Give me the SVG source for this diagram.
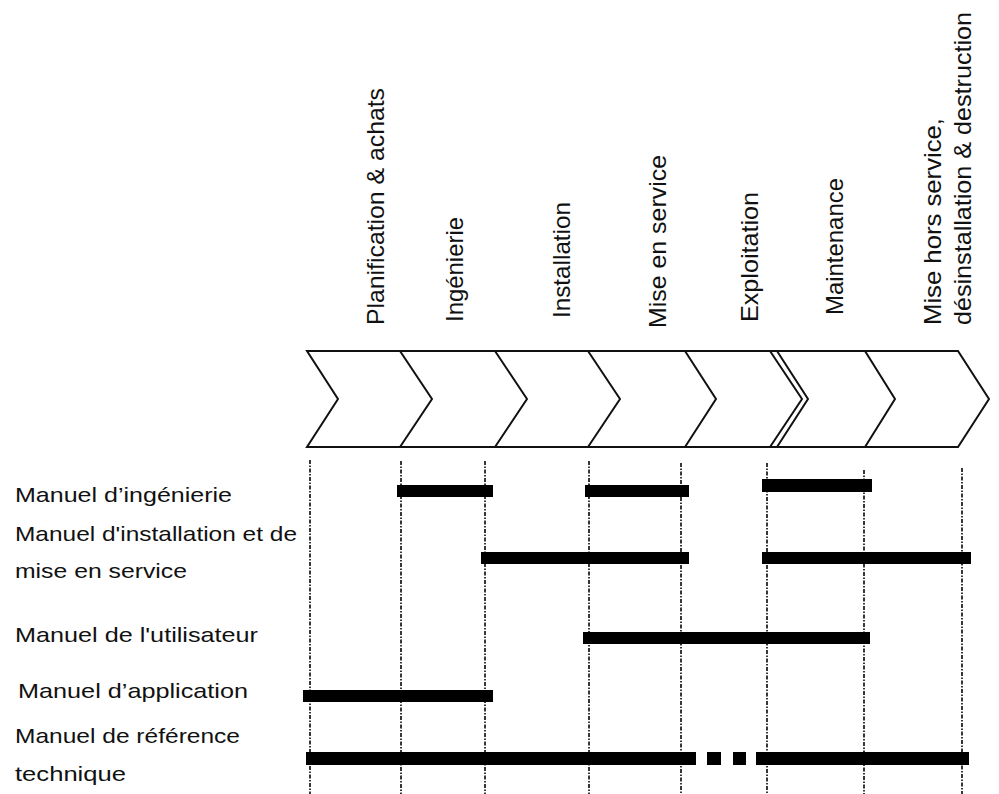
<svg xmlns="http://www.w3.org/2000/svg" width="999" height="794" viewBox="0 0 999 794">
<style>
text{font-family:"Liberation Sans",Arial,Helvetica,sans-serif;fill:#111}
.lbl{font-size:21px}
.ph{font-size:24px}
.chev{fill:none;stroke:#111;stroke-width:2;stroke-linejoin:miter}
.grid{stroke:#222;stroke-width:1.8;stroke-dasharray:4 1.5 1.5 1.5;fill:none}
.bar{fill:#000}
</style>
<rect width="999" height="794" fill="#fff"/>
<g id="phases">
<path class="chev" d="M307,351 L958,351 L989,399 L958,447 L307,447 L338,399 Z"/>
<g id="phase-planification"><text class="ph" transform="translate(384,325) rotate(-90)" textLength="237" lengthAdjust="spacingAndGlyphs">Planification &amp; achats</text></g>
<g id="phase-ingenierie"><polyline class="chev" points="400,351 432,399 400,447"/><text class="ph" transform="translate(463,322) rotate(-90)" textLength="105" lengthAdjust="spacingAndGlyphs">Ingénierie</text></g>
<g id="phase-installation"><polyline class="chev" points="495,351 527,399 495,447"/><text class="ph" transform="translate(570,318) rotate(-90)" textLength="116" lengthAdjust="spacingAndGlyphs">Installation</text></g>
<g id="phase-mise-en-service"><polyline class="chev" points="588,351 620,399 588,447"/><text class="ph" transform="translate(666,328) rotate(-90)" textLength="173" lengthAdjust="spacingAndGlyphs">Mise en service</text></g>
<g id="phase-exploitation"><polyline class="chev" points="685,351 716,399 685,447"/><text class="ph" transform="translate(758,322) rotate(-90)" textLength="130" lengthAdjust="spacingAndGlyphs">Exploitation</text></g>
<g id="phase-maintenance"><polyline class="chev" points="770,351 802,399 770,447"/><polyline class="chev" points="777,351 808,399 777,447"/><text class="ph" transform="translate(843,315) rotate(-90)" textLength="137" lengthAdjust="spacingAndGlyphs">Maintenance</text></g>
<g id="phase-mise-hors-service"><polyline class="chev" points="865,351 895,399 865,447"/><text class="ph" transform="translate(941,325) rotate(-90)" textLength="207" lengthAdjust="spacingAndGlyphs">Mise hors service,</text><text class="ph" transform="translate(971,325) rotate(-90)" textLength="313" lengthAdjust="spacingAndGlyphs">désinstallation &amp; destruction</text></g>
</g>
<g id="connectors">
<line class="grid" x1="310" y1="460" x2="310" y2="794"/>
<line class="grid" x1="401" y1="461" x2="401" y2="794"/>
<line class="grid" x1="485" y1="461" x2="485" y2="794"/>
<line class="grid" x1="589" y1="461" x2="589" y2="794"/>
<line class="grid" x1="681" y1="463" x2="681" y2="794"/>
<line class="grid" x1="767" y1="463" x2="767" y2="794"/>
<line class="grid" x1="864" y1="470" x2="864" y2="794"/>
<line class="grid" x1="962" y1="468" x2="962" y2="794"/>
</g>
<g id="doc-ingenierie">
<text class="lbl" x="15" y="502" textLength="217" lengthAdjust="spacingAndGlyphs">Manuel d’ingénierie</text>
<rect class="bar" x="397" y="485" width="96" height="12"/>
<rect class="bar" x="585" y="485" width="104" height="12"/>
<rect class="bar" x="762" y="479" width="110" height="13"/>
</g>
<g id="doc-installation">
<text class="lbl" x="15" y="541" textLength="282" lengthAdjust="spacingAndGlyphs">Manuel d'installation et de</text>
<text class="lbl" x="15" y="578" textLength="172" lengthAdjust="spacingAndGlyphs">mise en service</text>
<rect class="bar" x="481" y="552" width="208" height="12"/>
<rect class="bar" x="762" y="552" width="209" height="12"/>
</g>
<g id="doc-utilisateur">
<text class="lbl" x="15" y="642" textLength="243" lengthAdjust="spacingAndGlyphs">Manuel de l'utilisateur</text>
<rect class="bar" x="583" y="632" width="287" height="12"/>
</g>
<g id="doc-application">
<text class="lbl" x="18" y="698" textLength="230" lengthAdjust="spacingAndGlyphs">Manuel d’application</text>
<rect class="bar" x="303" y="690" width="190" height="12"/>
</g>
<g id="doc-reference">
<text class="lbl" x="15" y="743" textLength="225" lengthAdjust="spacingAndGlyphs">Manuel de référence</text>
<text class="lbl" x="15" y="781" textLength="111" lengthAdjust="spacingAndGlyphs">technique</text>
<rect class="bar" x="306" y="752" width="390" height="13"/>
<rect class="bar" x="707" y="752" width="14" height="13"/>
<rect class="bar" x="733" y="752" width="13" height="13"/>
<rect class="bar" x="756" y="752" width="213" height="13"/>
</g>
</svg>
